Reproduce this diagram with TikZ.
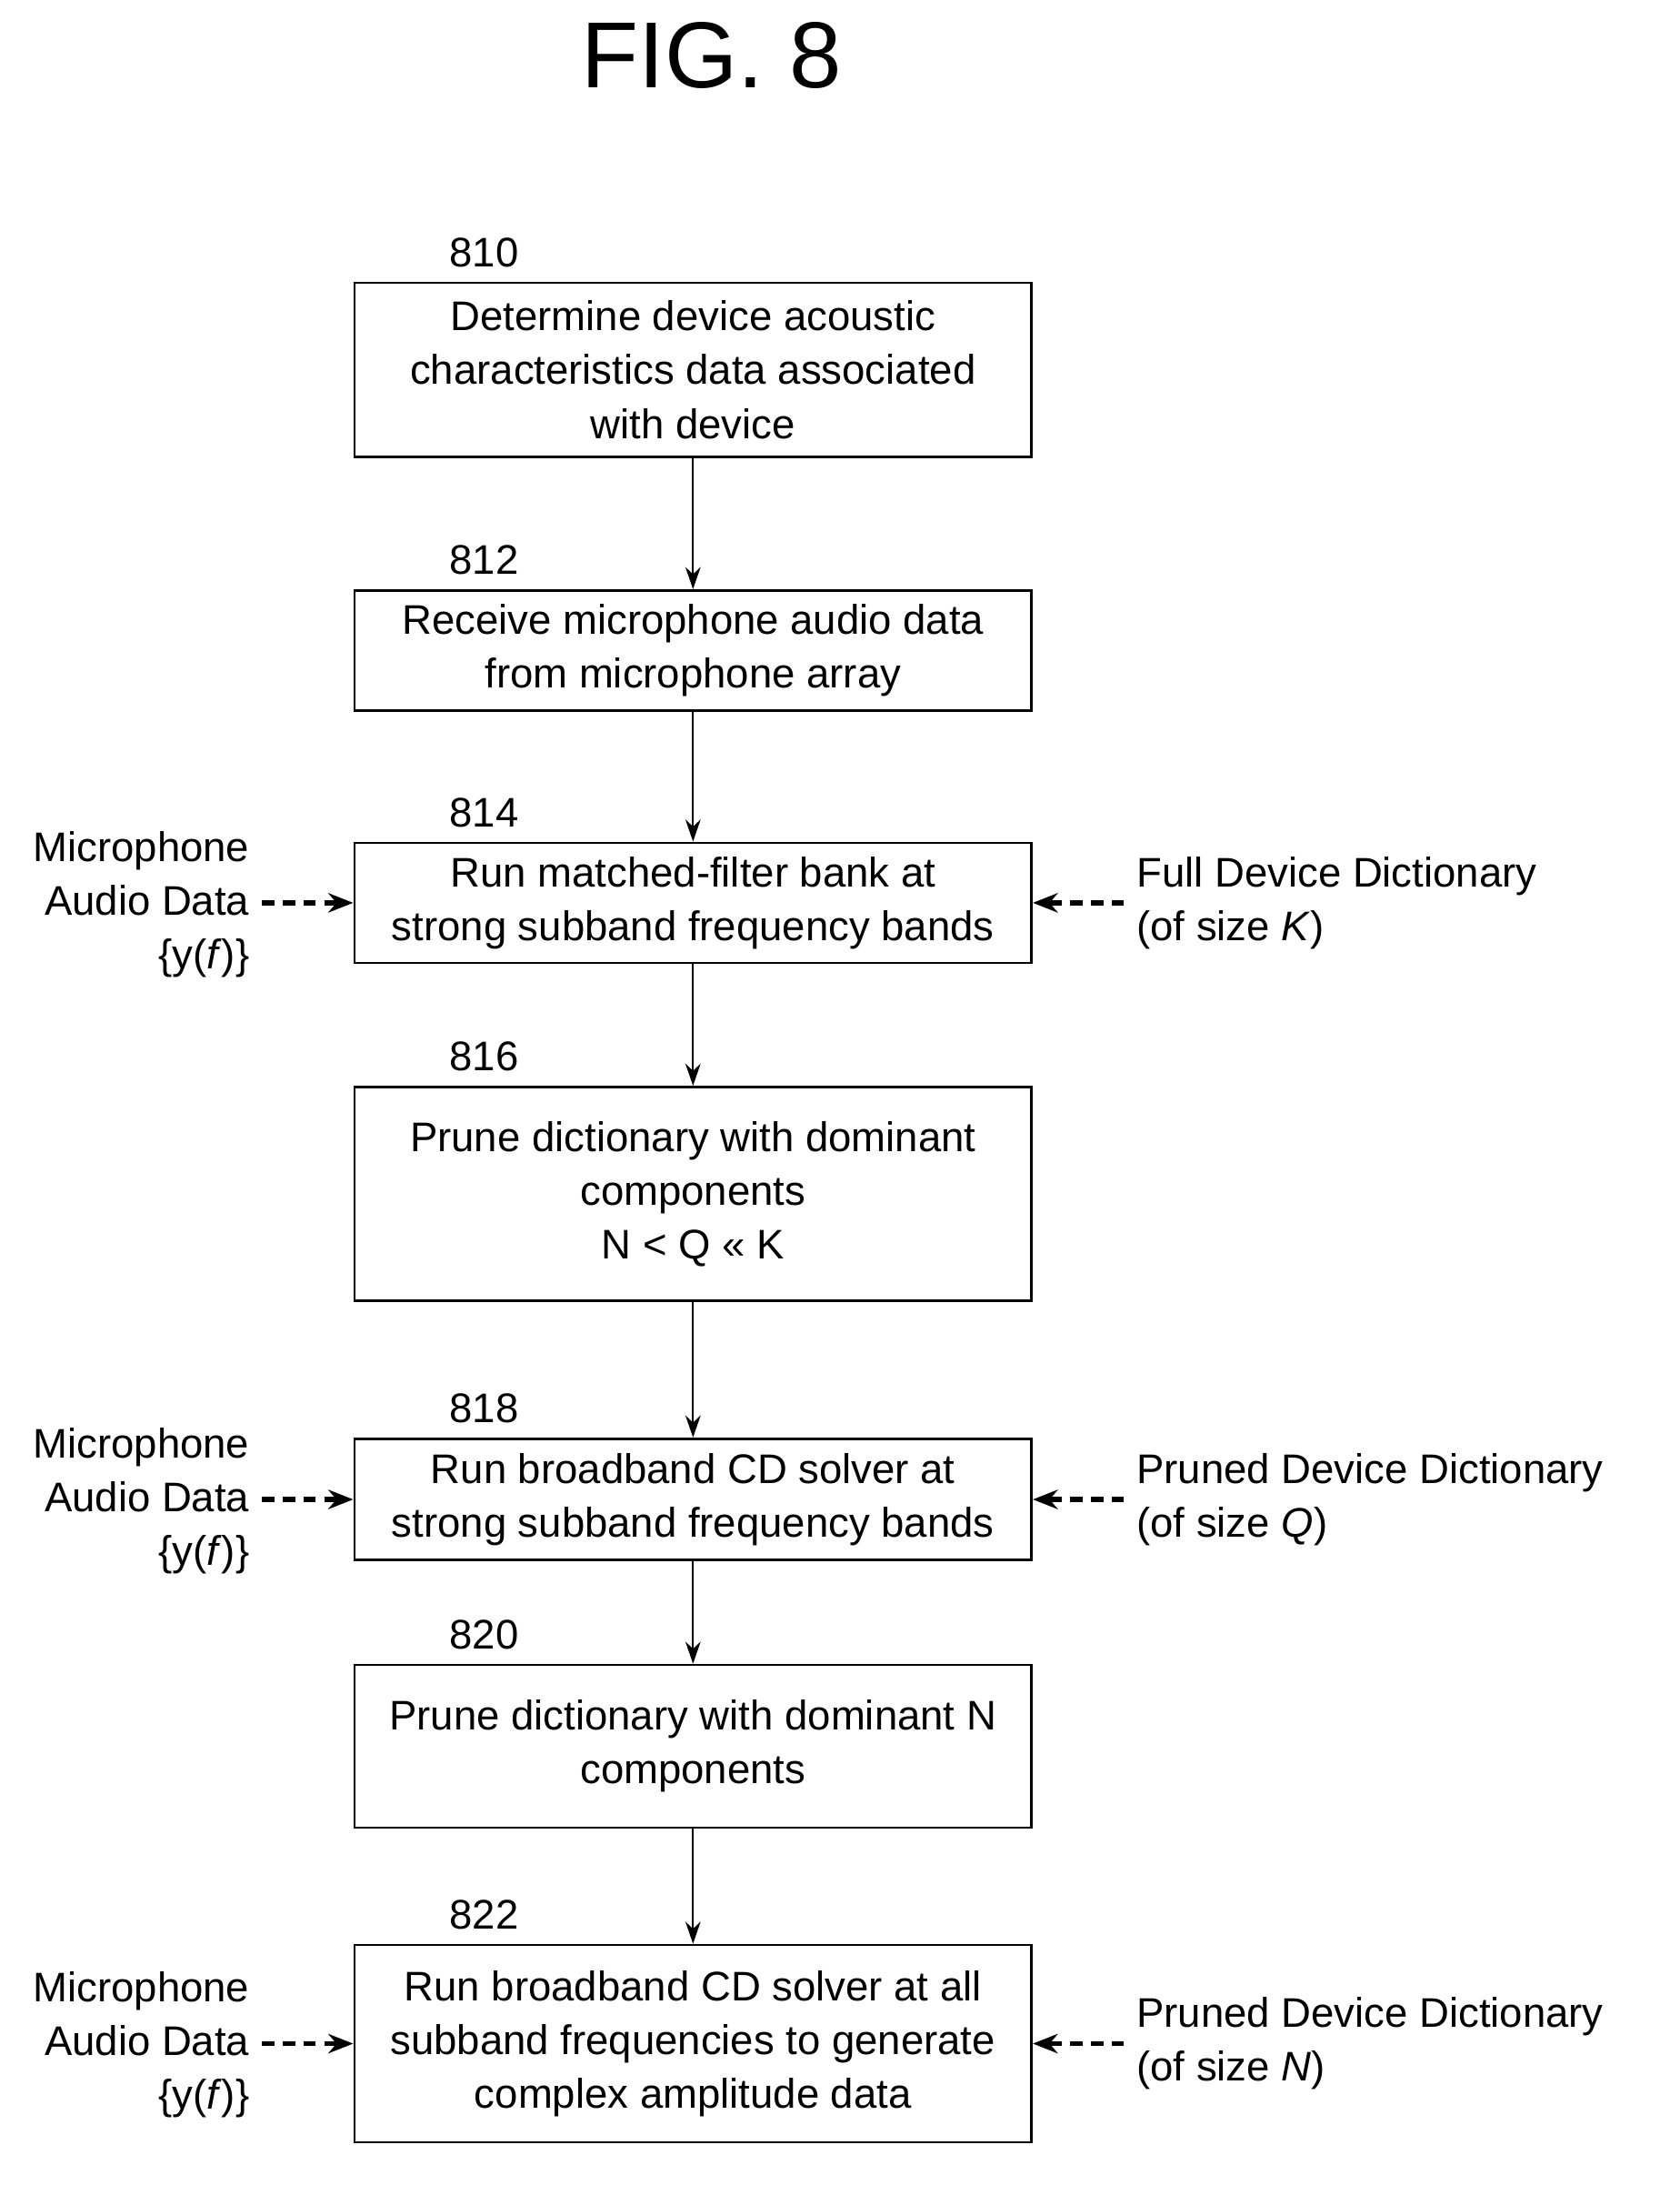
\documentclass[tikz,border=0pt]{standalone}
\usepackage{fontspec}
\setmainfont{Liberation Sans}
\usetikzlibrary{arrows.meta}
\begin{document}
\begin{tikzpicture}[x=1pt,y=-1pt,
  box/.style={draw,line width=1.8pt,minimum width=491pt,align=center,inner sep=0pt,font=\fontsize{30}{39}\selectfont},
  num/.style={font=\fontsize{30}{36}\selectfont},
  side/.style={align=right,font=\fontsize{30}{39}\selectfont,inner sep=0pt,anchor=east},
  rside/.style={align=left,font=\fontsize{30}{39}\selectfont,inner sep=0pt,anchor=west},
  flow/.style={-{Stealth[length=16pt,width=11pt]},line width=1.5pt},
  dsh/.style={-{Stealth[length=18pt,width=14pt]},line width=3.5pt,dash pattern=on 9pt off 6pt}]
\useasboundingbox (0,0) rectangle (1218,1584);
\node[font=\fontsize{68}{80}\selectfont] (t) at (516,40) {FIG. 8};
\node[box,minimum height=126pt] (b1) at (502.5,268) {Determine device acoustic\\characteristics data associated\\with device};
\node[box,minimum height=87pt] (b2) at (502.5,471.5) {Receive microphone audio data\\from microphone array};
\node[box,minimum height=87pt] (b3) at (502.5,654.5) {Run matched-filter bank at\\strong subband frequency bands};
\node[box,minimum height=155pt] (b4) at (502.5,865.5) {Prune dictionary with dominant\\components\\N < Q << K};
\node[box,minimum height=88pt] (b5) at (502.5,1087) {Run broadband CD solver at\\strong subband frequency bands};
\node[box,minimum height=118pt] (b6) at (502.5,1266) {Prune dictionary with dominant N\\components};
\node[box,minimum height=143pt] (b7) at (502.5,1481.5) {Run broadband CD solver at all\\subband frequencies to generate\\complex amplitude data};
\node[num] (n1) at (351,183) {810};
\node[num] (n2) at (351,406) {812};
\node[num] (n3) at (351,589) {814};
\node[num] (n4) at (351,766) {816};
\node[num] (n5) at (351,1021) {818};
\node[num] (n6) at (351,1185) {820};
\node[num] (n7) at (351,1388) {822};
\draw[flow] (b1) -- (b2);
\draw[flow] (b2) -- (b3);
\draw[flow] (b3) -- (b4);
\draw[flow] (b4) -- (b5);
\draw[flow] (b5) -- (b6);
\draw[flow] (b6) -- (b7);
\foreach \b/\y/\r/\s in {b3/654.5/Full Device Dictionary/K, b5/1087/Pruned Device Dictionary/Q, b7/1481.5/Pruned Device Dictionary/N}{
  \node[side] (L\b) at (181,\y+1) {Microphone\\Audio Data\\\{y(\textit{f})\}};
  \coordinate (ls\b) at (190,\y);
  \draw[dsh] (ls\b) -- (\b.west);
  \node[rside] (R\b) at (824,\y) {\r\\(of size \textit{\s})};
  \coordinate (rs\b) at (815,\y);
  \draw[dsh] (rs\b) -- (\b.east);
}
\end{tikzpicture}
\end{document}
